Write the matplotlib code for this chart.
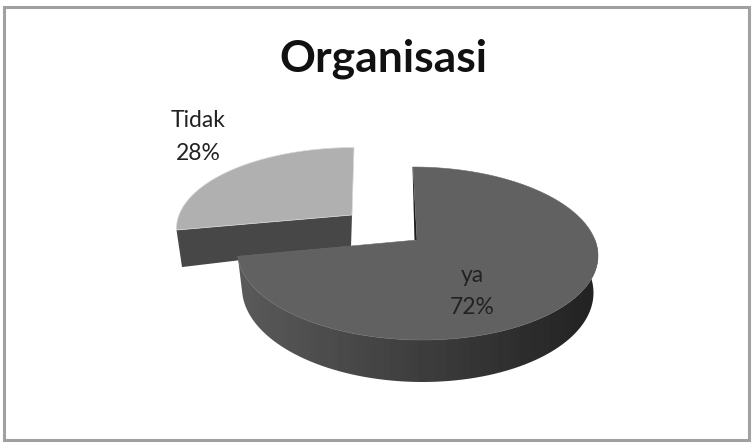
import matplotlib
matplotlib.use("Agg")
import matplotlib.pyplot as plt
import numpy as np
from matplotlib.patches import Polygon, Rectangle

title = "Organisasi"
categories = ["ya", "Tidak"]
shares = [72, 28]

WIDTH, HEIGHT = 753, 444
KEEL = 0.156  # perspective of the tilted disc


def rim(theta, x0, y0, a, b, skew=0.0):
    """Point on the projected circle, theta clockwise from 12 o'clock in degrees."""
    t = np.radians(theta)
    u, v = np.sin(t), np.cos(t)
    d = 1 + KEEL * v
    return np.column_stack([x0 + (a * u + skew * v) / d, y0 - b * v / d])


fig, ax = plt.subplots(figsize=(WIDTH / 100, HEIGHT / 100), dpi=100)
ax.set_position([0, 0, 1, 1])
ax.axis("off")

ax.add_patch(Rectangle((4, 7), 745, 433, facecolor="white", edgecolor="#a0a0a2", linewidth=2.2))

split = 360 * shares[0] / sum(shares)

# Tidak, pulled out of the pie
th = np.linspace(split, 360, 60)
top = rim(th, 352, 215, 173, 78, skew=2.3)
apex = np.array([352, 215])
apex_low = np.array([351, 247])
low_left = rim(np.array([split]), 351, 252, 167, 78)
ax.add_patch(Polygon(np.vstack([top[:1], apex, apex_low, low_left]),
                     closed=True, facecolor="#474747", edgecolor="none"))
ax.add_patch(Polygon(np.vstack([top[-1:], apex, apex_low]), closed=True,
                     facecolor="#8c8c8c", edgecolor="none"))
ax.add_patch(Polygon(np.vstack([apex, top]), closed=True, facecolor="#b0b0b0",
                     edgecolor="#d8d8d8", linewidth=0.5))

# ya, the big slice
X0, Y0, A, B = 417, 240, 178, 84.4
side_th = np.linspace(84, split, 90)
upper = rim(side_th, X0, Y0, A, B, skew=-4.6)
lower = rim(side_th, X0, Y0 + 36, A * 0.975, B * 1.06, skew=-4.6)
side = Polygon(np.vstack([upper, lower[::-1]]), closed=True, facecolor="none", edgecolor="none")
ax.add_patch(side)
# side wall shading runs dark on the right to lighter on the left
shade = np.linspace(0x5a, 0x22, 64).reshape(1, -1)
wall = ax.imshow(shade, cmap="gray", vmin=0, vmax=255, aspect="auto",
                 extent=(236, 600, 390, 240), zorder=2)
wall.set_clip_path(side)

th = np.linspace(0, split, 160)
top = rim(th, X0, Y0, A, B, skew=-4.6)
ax.add_patch(Polygon(np.vstack([top[0], [X0, Y0], [X0 - 2.5, Y0], top[0] + [-0.5, 0]]),
                     closed=True, facecolor="#1c1c1c", edgecolor="none", zorder=3))
ax.add_patch(Polygon(np.vstack([[X0, Y0], top]), closed=True, facecolor="#616161",
                     edgecolor="#6a6a6a", linewidth=0.4, zorder=4))

ax.set_xlim(0, WIDTH)
ax.set_ylim(HEIGHT, 0)

ax.text(383, 59, title, ha="center", va="center", fontsize=32, fontweight="bold",
        family="Lato", color="#111111", zorder=5)
label_style = dict(ha="center", va="center", fontsize=16.5, family="Lato", color="#222222", zorder=5)
ax.text(198, 120, categories[1], **label_style)
ax.text(198, 153, f"{shares[1]}%", **label_style)
ax.text(472, 275, categories[0], **label_style)
ax.text(472, 307, f"{shares[0]}%", **label_style)

fig.savefig("out.png", dpi=100)
plt.close(fig)
